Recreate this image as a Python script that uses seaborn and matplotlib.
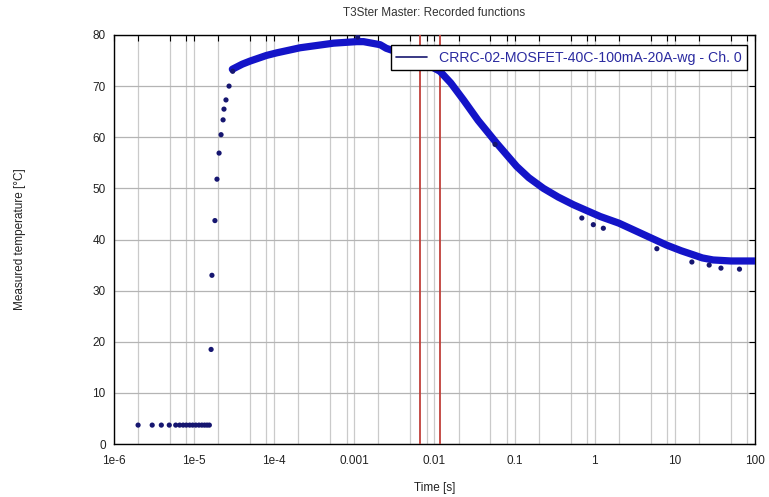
import numpy as np
import pandas as pd
import matplotlib
matplotlib.use("Agg")
import matplotlib.pyplot as plt
from matplotlib.lines import Line2D
from matplotlib.ticker import LogLocator, FixedLocator, NullFormatter, FixedFormatter
import seaborn as sns

# ---- data ----
# sparse early samples (flat baseline)
base_time = [2.0e-6, 3.0e-6, 3.9e-6, 4.9e-6, 5.9e-6, 6.6e-6, 7.3e-6, 8.0e-6,
             8.8e-6, 9.6e-6, 1.05e-5, 1.15e-5, 1.25e-5, 1.35e-5, 1.45e-5, 1.55e-5]
base_temp = [3.7] * 16

# heating rise samples
rise_time = [1.63e-5, 1.67e-5, 1.82e-5, 1.93e-5, 2.05e-5, 2.17e-5, 2.30e-5,
             2.36e-5, 2.50e-5, 2.73e-5, 3.03e-5]
rise_temp = [18.5, 33.0, 43.7, 51.8, 56.9, 60.5, 63.4, 65.5, 67.3, 70.0, 72.9]

# dense main recording (appears as a thick band)
main_time = [3.0e-5, 4.0e-5, 5.0e-5, 8.0e-5, 1.07e-4, 2.1e-4, 5.5e-4, 1.07e-3,
             1.3e-3, 2.1e-3, 2.5e-3, 4.0e-3, 7.0e-3, 1.17e-2, 1.6e-2, 2.3e-2,
             3.5e-2, 6.0e-2, 0.106, 0.15, 0.229, 0.35, 0.542, 1.17, 2.0, 3.03,
             7.9, 12.0, 17.0, 22.0, 30.0, 50.0, 100.0]
main_temp = [73.3, 74.3, 74.9, 76.0, 76.5, 77.5, 78.4, 78.7,
             78.7, 78.1, 77.4, 76.3, 74.8, 72.9, 70.6, 67.3,
             63.3, 58.8, 54.3, 52.1, 50.0, 48.3, 46.8, 44.5, 43.2, 41.9,
             38.9, 37.8, 37.0, 36.4, 36.0, 35.8, 35.8]

# scattered outlier samples
out_time = [1.1e-3, 0.057, 0.69, 0.96, 1.28, 5.96, 16.3, 26.8, 37.6, 64.0]
out_temp = [79.6, 58.6, 44.2, 42.9, 42.2, 38.2, 35.6, 35.0, 34.4, 34.2]

# red marker lines
marker_times = [0.0066, 0.0117]

series_label = "CRRC-02-MOSFET-40C-100mA-20A-wg - Ch. 0"
x_tick_vals = [1e-6, 1e-5, 1e-4, 1e-3, 1e-2, 1e-1, 1, 10, 100]
x_tick_labels = ["1e-6", "1e-5", "1e-4", "0.001", "0.01", "0.1", "1", "10", "100"]
y_tick_vals = [0, 10, 20, 30, 40, 50, 60, 70, 80]

# ---- style ----
sns.set_style("white")
plt.rcParams['font.family'] = ['Liberation Sans', 'DejaVu Sans']

fig = plt.figure(figsize=(7.69, 4.97), dpi=100)
ax = fig.add_axes([0.1482, 0.1066, 0.8336, 0.823])

blue = "#1414c8"
navy = "#161670"

df_main = pd.DataFrame({"t": main_time, "T": main_temp})
df_base = pd.DataFrame({"t": base_time, "T": base_temp})
df_rise = pd.DataFrame({"t": rise_time, "T": rise_temp})
df_out = pd.DataFrame({"t": out_time, "T": out_temp})

sns.lineplot(data=df_main, x="t", y="T", ax=ax, color=blue, linewidth=5.2,
             solid_capstyle="round", solid_joinstyle="round", zorder=4, legend=False)
sns.scatterplot(data=df_base, x="t", y="T", ax=ax, color=navy, s=14,
                edgecolor="none", zorder=5, legend=False)
sns.scatterplot(data=df_rise, x="t", y="T", ax=ax, color=navy, s=14,
                edgecolor="none", zorder=5, legend=False)
sns.scatterplot(data=df_out, x="t", y="T", ax=ax, color=navy, s=14,
                edgecolor="none", zorder=5, legend=False)

for mt in marker_times:
    ax.axvline(mt, color="#c0403a", linewidth=1.3, zorder=3)

ax.set_xscale("log")
ax.set_xlim(1e-6, 100)
ax.set_ylim(0, 80)

ax.xaxis.set_major_locator(FixedLocator(x_tick_vals))
ax.xaxis.set_major_formatter(FixedFormatter(x_tick_labels))
ax.xaxis.set_minor_locator(LogLocator(base=10, subs=(2.0, 5.0, 8.0), numticks=50))
ax.xaxis.set_minor_formatter(NullFormatter())
ax.yaxis.set_major_locator(FixedLocator(y_tick_vals))

ax.grid(True, which="both", axis="x", color="#cacaca", linewidth=0.9, zorder=0)
ax.grid(True, which="major", axis="y", color="#b4b4b4", linewidth=0.9, zorder=0)
ax.set_axisbelow(True)

ax.tick_params(axis="both", which="both", direction="in", top=True, right=True,
               length=4, width=0.8, color="black", labelsize=8.5, labelcolor="#222222")
ax.tick_params(axis="x", which="major", pad=8)
ax.tick_params(axis="y", which="major", pad=6)

for sp in ax.spines.values():
    sp.set_color("black")
    sp.set_linewidth(1.0)

ax.set_title("T3Ster Master: Recorded functions", fontsize=8.5, color="#333333", pad=14)
ax.set_xlabel("Time [s]", fontsize=8.5, color="#222222")
ax.set_ylabel("Measured temperature [°C]", fontsize=8.5, color="#222222")
ax.xaxis.label.set_verticalalignment("center")
ax.yaxis.label.set_verticalalignment("center")
ax.xaxis.set_label_coords(0.5, -0.1076)
ax.yaxis.set_label_coords(-0.146, 0.5)

handle = Line2D([0], [0], color=navy, linewidth=1.2)
leg = ax.legend([handle], [series_label], loc="upper right",
                bbox_to_anchor=(0.9875, 0.9756), borderaxespad=0,
                fancybox=False, framealpha=1, edgecolor="black",
                fontsize=10.2, handlelength=2.2, borderpad=0.4, labelcolor="#2a2aa0")
leg.get_frame().set_linewidth(1.0)
leg.set_zorder(10)

fig.savefig("out.png", dpi=100)
